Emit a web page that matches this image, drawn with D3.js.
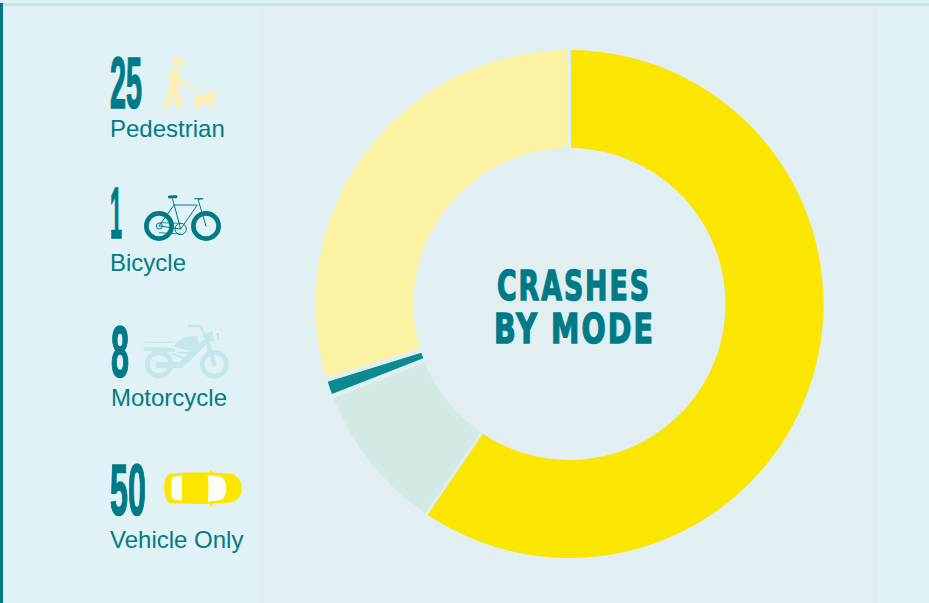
<!DOCTYPE html>
<html lang="en">
<head>
<meta charset="UTF-8">
<title>Crashes by mode</title>
<script src="https://cdn.jsdelivr.net/npm/d3@7"></script>
<style>
    html, body { margin: 0; padding: 0; background: #e0f2f6; overflow: hidden; }
    svg { display: block; }
    .count { font-family: "Liberation Sans Narrow", "Liberation Sans", sans-serif; font-weight: 700; fill: #007a87; }
    .label { font-family: "Liberation Sans", Arial, sans-serif; font-size: 24px; fill: #047a87; }
    .title { font-family: "DejaVu Sans", sans-serif; font-weight: 700; font-size: 41px; fill: #007a87; stroke: #007a87; stroke-width: 1.5px; letter-spacing: 3px; }
</style>
</head>
<body>
<div id="chart"></div>
<script>
// values, in legend order
const modes = ['Pedestrian', 'Bicycle', 'Motorcycle', 'Vehicle Only']
const crashes = [25, 1, 8, 50]
const titleLines = ['CRASHES', 'BY MODE']

const w = 929
const h = 603
const teal = '#007a87'

// legend layout, same order as modes
const countX = [110, 110, 111, 110]
const countW = [32, 12, 18, 36]
const countBase = [108, 238, 377, 515]
const labelX = [110, 110, 111, 110]
const labelBase = [137, 271, 406, 548]
const sliceColors = ['#fbf2a4', '#0b8a8f', '#d2e9e6', '#fae600']

const svg = d3.select('#chart').append('svg').attr('width', w).attr('height', h)

//background panels
svg.append('rect').attr('width', w).attr('height', h).attr('fill', '#e0f2f6')
svg.append('rect').attr('x', 260).attr('y', 6).attr('width', 618).attr('height', h).attr('fill', '#e1eff2')
svg.append('rect').attr('width', w).attr('height', 3).attr('fill', '#e0f2f5')
svg.append('rect').attr('y', 3).attr('width', w).attr('height', 3).attr('fill', '#c3e5ea')
svg.append('rect').attr('y', 3).attr('width', 3).attr('height', h).attr('fill', teal)

//donut, drawn counter clockwise from 12 o'clock so vehicle comes first going clockwise
const pie = d3.pie().sort(null).startAngle(2 * Math.PI).endAngle(0)
// the bicycle slice sits a bit thinner in the original, so it gets more padding
const arc = d3.arc().innerRadius(156).outerRadius(254).padRadius(300)
    .padAngle(d => d.index === 1 ? 0.02 : 0.01)

svg.append('g')
   .attr('transform', 'translate(569.5, 304)')
   .selectAll('path')
   .data(pie(crashes))
   .enter()
   .append('path')
   .attr('d', arc)
   .attr('fill', (d, i) => sliceColors[i])

//title
svg.selectAll('.title')
   .data(titleLines)
   .enter()
   .append('text')
   .attr('class', 'title')
   .attr('x', (d, i) => [497, 494][i])
   .attr('y', (d, i) => [300, 343][i])
   .attr('textLength', (d, i) => [154, 161][i])
   .attr('lengthAdjust', 'spacingAndGlyphs')
   .text(d => d)

//legend numbers, squeezed to the tall condensed look
svg.selectAll('.count')
   .data(crashes)
   .enter()
   .append('text')
   .attr('class', 'count')
   .attr('font-size', 72)
   .attr('stroke', teal)
   .attr('stroke-width', 1.6)
   .attr('x', (d, i) => countX[i])
   .attr('y', (d, i) => countBase[i])
   .attr('textLength', (d, i) => countW[i])
   .attr('lengthAdjust', 'spacingAndGlyphs')
   .text(d => d)

svg.selectAll('.label')
   .data(modes)
   .enter()
   .append('text')
   .attr('class', 'label')
   .attr('x', (d, i) => labelX[i])
   .attr('y', (d, i) => labelBase[i])
   .text(d => d)

// icons are decoration, drawn in 3x units
const icon = (x, y) => svg.append('g').attr('transform', `translate(${x},${y}) scale(${1 / 3})`)
const line = (g, d, color, width) => g.append('path').attr('d', d).attr('fill', 'none')
    .attr('stroke', color).attr('stroke-width', width).attr('stroke-linecap', 'round').attr('stroke-linejoin', 'round')
const ring = (g, cx, cy, r, color, width) => g.append('circle').attr('cx', cx).attr('cy', cy).attr('r', r)
    .attr('fill', 'none').attr('stroke', color).attr('stroke-width', width)
const blob = (g, d, color) => g.append('path').attr('d', d).attr('fill', color)

//walker and dog
const cream = '#fdf0b2'
const walker = icon(90, 40)
walker.append('circle').attr('cx', 266).attr('cy', 65).attr('r', 15).attr('fill', cream)
line(walker, 'M253 98 L250 150', cream, 28)
line(walker, 'M246 150 L231 199', cream, 16)
line(walker, 'M257 150 L268 199', cream, 17)
line(walker, 'M262 100 L270 126 L292 137', cream, 9)
line(walker, 'M292 137 L356 166', cream, 3)
blob(walker, 'M310 156 L322 166 L352 166 L362 147 L370 156 L384 164 L372 174 L366 180 L373 206 L363 206 L354 188 L332 190 L327 206 L316 206 L318 176 Z', cream)

//bicycle
const bike = icon(90, 40)
ring(bike, 207, 558, 38, teal, 14)
ring(bike, 348, 558, 38, teal, 14)
ring(bike, 272, 567, 17, teal, 3)
ring(bike, 208, 558, 9, teal, 3)
line(bike, 'M207 558 L252 495 L322 495 L272 567 L208 558', teal, 3)
line(bike, 'M248 478 L272 567', teal, 3)
line(bike, 'M348 558 L324 478 L338 476 M314 476 L338 476', teal, 3)
line(bike, 'M210 548 L272 550 M208 578 L272 582', teal, 2.5)
line(bike, 'M238 471 L258 470', teal, 9)

//motorcycle
const pale = '#c4e7eb'
const moto = icon(90, 310)
ring(moto, 207, 163, 35, pale, 15)
ring(moto, 373, 163, 36, pale, 14)
line(moto, 'M205 165 L272 165 L340 100', pale, 18)
line(moto, 'M166 117 L250 120', pale, 12)
line(moto, 'M165 97 L245 97', pale, 4)
line(moto, 'M250 132 L295 150 M262 128 L316 128', pale, 6)
blob(moto, 'M252 110 C262 88 292 76 322 78 L326 112 L296 122 Z', pale)
blob(moto, 'M336 74 L368 62 L372 94 L346 94 Z', pale)
line(moto, 'M298 48 L330 48 L345 74', pale, 8)
line(moto, 'M350 90 L373 163', pale, 13)
line(moto, 'M380 72 L384 72 L384 88', pale, 6)

//car
const yellow = '#fae600'
const car = icon(90, 310)
blob(car, 'M238 491 C290 486 370 486 425 491 C445 497 456 515 455 535 C456 555 445 572 425 577 C370 583 290 583 238 579 C226 570 222 550 223 534 C222 516 226 500 238 491 Z', yellow)
blob(car, 'M360 477 L371 491 L360 491 Z M360 593 L371 579 L360 579 Z', yellow)
blob(car, 'M247 501 L276 497 L276 572 L247 568 C243 545 243 525 247 501 Z', '#fbfcf4')
blob(car, 'M353 495 L392 500 C415 510 415 560 392 570 L353 575 C356 545 356 525 353 495 Z', '#fbfcf4')
</script>
</body>
</html>
